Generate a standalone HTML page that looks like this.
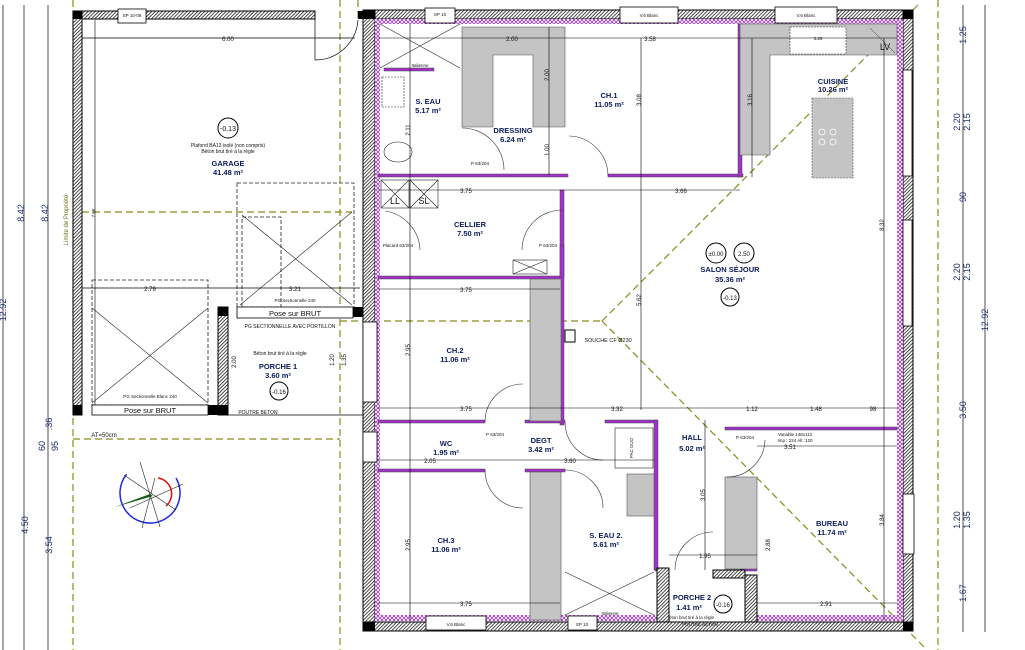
<!DOCTYPE html>
<html><head><meta charset="utf-8"><style>
html,body{margin:0;padding:0;background:#fff;width:1025px;height:650px;overflow:hidden}
svg{display:block;font-family:"Liberation Sans",sans-serif}
.rn{font-size:7.5px;fill:#0a1a5a;text-anchor:middle;font-weight:bold}
.dm{font-size:6px;fill:#111;text-anchor:middle}
.sm{font-size:4.5px;fill:#111;text-anchor:middle}
.bd{font-size:9px;fill:#1a2b6d;text-anchor:middle}
</style></head><body>
<svg width="1025" height="650" viewBox="0 0 1025 650">
<defs>
<pattern id="h" width="2.5" height="2.5" patternUnits="userSpaceOnUse" patternTransform="rotate(45)"><rect width="2.5" height="2.5" fill="#fff"/><line x1="0" y1="0" x2="0" y2="2.5" stroke="#111" stroke-width="1.5"/></pattern>
<pattern id="p" width="4" height="4" patternUnits="userSpaceOnUse"><rect width="4" height="4" fill="#a033c8"/><path d="M0 0L4 4M4 0L0 4" stroke="#fff" stroke-width="0.8"/></pattern>
</defs>
<rect width="1025" height="650" fill="#fff"/>

<g stroke="#8b8b1a" stroke-width="1.2" stroke-dasharray="7,4" fill="none">
<line x1="73" y1="0" x2="73" y2="650"/>
<line x1="340" y1="0" x2="340" y2="650"/>
<line x1="73" y1="439" x2="340" y2="439"/>
<line x1="82" y1="212" x2="352" y2="212"/>
<line x1="340" y1="321" x2="602" y2="321"/>
<line x1="602" y1="321" x2="918" y2="5"/>
<line x1="602" y1="321" x2="925" y2="648"/>
<line x1="938" y1="0" x2="938" y2="650"/>
<line x1="358" y1="0" x2="358" y2="20"/>
</g>

<rect x="73" y="11" width="242" height="8" fill="url(#h)" stroke="#000" stroke-width="1"/>
<rect x="73" y="11" width="9" height="404" fill="url(#h)" stroke="#000" stroke-width="1"/>
<rect x="73" y="11" width="9" height="8" fill="#000"/>
<rect x="73" y="405" width="9" height="10" fill="#000"/>
<rect x="118" y="9" width="28" height="14" fill="#fff" stroke="#000" stroke-width="0.8"/>
<text x="132" y="17" class="sm">SP 10-08</text>
<rect x="358" y="11" width="12" height="8" fill="#000"/>
<path d="M315 19 L315 60 A43 43 0 0 0 358 20" fill="none" stroke="#000" stroke-width="0.7"/>
<line x1="82" y1="38" x2="355" y2="38" stroke="#000" stroke-width="0.7"/>
<text x="228" y="41" class="dm">6.00</text>
<line x1="95" y1="20" x2="95" y2="405" stroke="#000" stroke-width="0.6"/>
<text x="95" y="213" class="sm" transform="rotate(-90 95 213)">7.86</text>
<text x="68" y="220" class="sm" transform="rotate(-90 68 220)" style="fill:#6a6a10;font-size:6px">Limite de Propriété</text>
<g fill="none" stroke="#222" stroke-width="0.8" stroke-dasharray="4,2">
<rect x="92" y="280" width="116" height="125"/>
<rect x="237" y="183" width="117" height="125"/>
<rect x="242" y="217" width="39" height="90"/>
</g>
<g stroke="#222" stroke-width="0.6"><line x1="92" y1="308" x2="208" y2="403"/><line x1="208" y1="308" x2="92" y2="403"/><line x1="242" y1="215" x2="352" y2="305"/><line x1="352" y1="212" x2="240" y2="305"/></g>
<line x1="82" y1="288" x2="360" y2="288" stroke="#000" stroke-width="0.7"/>
<text x="150" y="291" class="dm">2.79</text><text x="295" y="291" class="dm">3.21</text>
<circle cx="228" cy="128" r="10" fill="#fff" stroke="#000"/><text x="228" y="131" class="dm" style="font-size:7px">-0.13</text>
<text x="228" y="147" class="sm" style="font-size:5px">Plafond BA13 isolé (non compris)</text>
<text x="228" y="153" class="sm" style="font-size:5px">Béton brut tiré à la règle</text>
<text x="228" y="166" class="rn">GARAGE</text><text x="228" y="175" class="rn">41.48 m²</text>
<rect x="92" y="405" width="116" height="10" fill="#fff" stroke="#000" stroke-width="0.8"/>
<text x="150" y="413" class="rn" style="fill:#111;font-weight:normal">Pose sur BRUT</text>
<text x="150" y="398" class="sm">PG Sectionnelle Blanc 240</text>
<rect x="237" y="307" width="116" height="11" fill="#fff" stroke="#000" stroke-width="0.8"/>
<text x="295" y="316" class="rn" style="fill:#111;font-weight:normal">Pose sur BRUT</text>
<text x="295" y="302" class="sm">PG Sectionnelle 240</text>
<rect x="218" y="307" width="10" height="108" fill="url(#h)" stroke="#000"/>
<rect x="218" y="307" width="10" height="9" fill="#000"/><rect x="208" y="405" width="20" height="10" fill="#000"/>
<rect x="353" y="307" width="10" height="10" fill="#000"/>
<line x1="228" y1="415" x2="363" y2="415" stroke="#000" stroke-width="0.7"/>
<text x="290" y="328" class="sm" style="font-size:5px">PG SECTIONNELLE AVEC PORTILLON</text>
<text x="280" y="355" class="sm" style="font-size:5px">Béton brut tiré à la règle</text>
<text x="278" y="369" class="rn">PORCHE 1</text><text x="278" y="378" class="rn">3.60 m²</text>
<circle cx="279" cy="391" r="9" fill="#fff" stroke="#000"/><text x="279" y="394" class="dm">-0.16</text>
<text x="258" y="414" class="sm" style="font-size:5px">POUTRE BETON</text>
<text x="236" y="362" class="dm" transform="rotate(-90 236 362)">2.00</text>
<text x="334" y="360" class="dm" transform="rotate(-90 334 360)">1.20</text>
<text x="346" y="360" class="dm" transform="rotate(-90 346 360)">1.35</text>
<text x="104" y="437" class="sm" style="font-size:6px">AT=50cm</text>

<circle cx="150" cy="493" r="30" fill="none" stroke="#1d2bdc" stroke-width="1.5" stroke-dasharray="130,60" transform="rotate(-30 150 493)"/>
<path d="M158 478 A16 16 0 0 1 166 506" fill="none" stroke="#e01010" stroke-width="1.5"/>
<g stroke="#222" stroke-width="0.6"><line x1="140" y1="462" x2="160" y2="527"/><line x1="124" y1="475" x2="176" y2="510"/><line x1="155" y1="478" x2="142" y2="528"/><line x1="130" y1="508" x2="183" y2="484"/></g>
<path d="M115 507 L150 494 L153 496 Z" fill="#1a5a1a"/>

<g stroke="#000" stroke-width="0.7">
<line x1="3" y1="5" x2="3" y2="650"/><line x1="24" y1="5" x2="24" y2="650"/><line x1="48" y1="5" x2="48" y2="650"/>
</g>
<g>
<text x="24" y="213" transform="rotate(-90 24 213)" class="bd">8.42</text>
<text x="48" y="213" transform="rotate(-90 48 213)" class="bd">8.42</text>
<text x="6" y="310" transform="rotate(-90 6 310)" class="bd">12.92</text>
<text x="28" y="525" transform="rotate(-90 28 525)" class="bd">4.50</text>
<text x="52" y="545" transform="rotate(-90 52 545)" class="bd">3.54</text>
<text x="52" y="424" transform="rotate(-90 52 424)" class="bd">.36</text>
<text x="45" y="446" transform="rotate(-90 45 446)" class="bd">60</text>
<text x="58" y="446" transform="rotate(-90 58 446)" class="bd">95</text>
</g>

<rect x="370" y="10" width="543" height="9" fill="url(#h)" stroke="#000"/>
<rect x="363" y="10" width="12" height="620" fill="url(#h)" stroke="#000"/>
<rect x="903" y="10" width="10" height="620" fill="url(#h)" stroke="#000"/>
<rect x="363" y="622" width="550" height="9" fill="url(#h)" stroke="#000"/>
<rect x="375" y="19" width="528" height="5" fill="url(#p)"/>
<rect x="375" y="19" width="5" height="600" fill="url(#p)"/>
<rect x="897" y="19" width="6" height="600" fill="url(#p)"/>
<rect x="375" y="615" width="282" height="6" fill="url(#p)"/>
<rect x="757" y="615" width="146" height="6" fill="url(#p)"/>
<g fill="#fff" stroke="#000" stroke-width="0.8">
<rect x="425" y="8" width="30" height="15"/><rect x="620" y="7" width="58" height="16"/><rect x="775" y="7" width="62" height="16"/>
<rect x="903" y="70" width="9" height="106"/><rect x="903" y="220" width="9" height="106"/><rect x="903" y="494" width="11" height="60"/>
<rect x="426" y="616" width="60" height="14"/><rect x="568" y="616" width="29" height="14"/>
<rect x="363" y="322" width="14" height="80"/><rect x="363" y="432" width="14" height="30"/>
</g>
<text x="440" y="16" class="sm">SP 10</text><text x="649" y="17" class="sm">V.6 Blanc</text><text x="806" y="17" class="sm">V.6 Blanc</text>
<text x="456" y="626" class="sm">V.6 Blanc</text><text x="582" y="626" class="sm">SP 10</text>
<rect x="363" y="10" width="12" height="9" fill="#000"/><rect x="903" y="10" width="10" height="9" fill="#000"/><rect x="903" y="622" width="10" height="9" fill="#000"/><rect x="363" y="622" width="12" height="9" fill="#000"/>

<g fill="#a033c8" stroke="#444" stroke-width="0.5">
<rect x="378" y="174" width="190" height="3"/><rect x="608" y="174" width="135" height="3"/>
<rect x="738" y="24" width="4" height="153"/>
<rect x="378" y="276" width="185" height="3"/>
<rect x="560" y="190" width="4" height="87"/><rect x="560" y="245" width="4" height="180"/>
<rect x="378" y="420" width="107" height="3"/><rect x="525" y="420" width="40" height="3"/>
<rect x="378" y="469" width="107" height="3"/><rect x="525" y="469" width="40" height="3"/>
<rect x="605" y="420" width="52" height="3"/><rect x="654" y="420" width="4" height="150"/>
<rect x="725" y="427" width="172" height="3"/>
<rect x="655" y="568" width="12" height="3"/><rect x="740" y="568" width="17" height="3"/>
<rect x="384" y="68" width="50" height="3"/>
</g>
<g fill="#c4c4c4" stroke="#555" stroke-width="0.6">
<path d="M462 27 H565 V127 H533 V55 H493 V127 H462 Z"/>
<rect x="530" y="279" width="31" height="142"/>
<rect x="530" y="472" width="31" height="148"/>
<rect x="725" y="477" width="32" height="92"/>
<path d="M740 24 H897 V55 H770 V155 H740 Z"/>
<rect x="812" y="98" width="41" height="80" stroke-dasharray="2,1"/>
<rect x="627" y="474" width="27" height="42"/>
</g>
<rect x="790" y="27" width="56" height="27" fill="#fff" stroke="#333" stroke-width="0.6" stroke-dasharray="2,1"/>
<text x="818" y="40" class="sm">3.25</text>
<g fill="none" stroke="#fff" stroke-width="0.8"><circle cx="822" cy="132" r="3"/><circle cx="833" cy="132" r="3"/><circle cx="822" cy="142" r="3"/><circle cx="833" cy="142" r="3"/></g>
<text x="885" y="50" class="dm" style="font-size:9px">LV</text>
<line x1="870" y1="28" x2="895" y2="53" stroke="#333" stroke-width="0.5"/>
<g fill="none" stroke="#222" stroke-width="0.6">
<rect x="381" y="180" width="28" height="28"/><rect x="410" y="180" width="28" height="28"/>
<line x1="381" y1="180" x2="409" y2="208"/><line x1="409" y1="180" x2="381" y2="208"/>
<line x1="410" y1="180" x2="438" y2="208"/><line x1="438" y1="180" x2="410" y2="208"/>
<line x1="380" y1="24" x2="460" y2="68"/><line x1="460" y1="24" x2="380" y2="68"/>
<ellipse cx="398" cy="152" rx="14" ry="10"/><rect x="382" y="77" width="22" height="30" stroke-dasharray="2,1"/>
<rect x="615" y="428" width="38" height="40"/>
<line x1="565" y1="572" x2="654" y2="615"/><line x1="654" y1="572" x2="565" y2="615"/>
<rect x="513" y="260" width="34" height="14"/><line x1="513" y1="260" x2="547" y2="274"/><line x1="547" y1="260" x2="513" y2="274"/>
</g>
<text x="395" y="204" class="dm" style="font-size:9px">LL</text><text x="424" y="204" class="dm" style="font-size:9px">SL</text>
<g fill="none" stroke="#333" stroke-width="0.6">
<path d="M462 128 A42 42 0 0 1 504 170"/><path d="M569 136 A40 40 0 0 1 608 176"/>
<path d="M385 211 A41 41 0 0 1 420 250"/><path d="M522 250 A40 40 0 0 1 562 210"/>
<path d="M485 422 A38 38 0 0 1 523 384"/><path d="M485 470 A38 38 0 0 0 523 508"/>
<path d="M565 422 A38 38 0 0 0 603 460"/><path d="M565 470 A38 38 0 0 1 603 508"/>
<path d="M727 477 A38 38 0 0 0 765 440"/><path d="M675 570 A38 38 0 0 1 713 532"/>
</g>
<g stroke="#000" stroke-width="0.6">
<line x1="378" y1="38" x2="897" y2="38"/><line x1="378" y1="190" x2="740" y2="190"/>
<line x1="378" y1="289" x2="560" y2="289"/><line x1="378" y1="408" x2="897" y2="408"/>
<line x1="378" y1="460" x2="654" y2="460"/><line x1="378" y1="603" x2="560" y2="603"/>
<line x1="410" y1="24" x2="410" y2="620"/><line x1="549" y1="27" x2="549" y2="175"/>
<line x1="641" y1="38" x2="641" y2="410"/><line x1="752" y1="38" x2="752" y2="177"/>
<line x1="884" y1="38" x2="884" y2="620"/><line x1="757" y1="446" x2="897" y2="446"/>
<line x1="757" y1="575" x2="757" y2="620"/><line x1="757" y1="603" x2="897" y2="603"/>
<line x1="669" y1="555" x2="757" y2="555"/><line x1="705" y1="420" x2="705" y2="570"/>
</g>
<g class="dm" fill="#111">
<text x="512" y="41">2.00</text><text x="650" y="41">3.58</text><text x="466" y="193">3.75</text><text x="681" y="193">3.66</text>
<text x="466" y="292">3.75</text><text x="466" y="411">3.75</text><text x="617" y="411">3.32</text><text x="752" y="411">1.12</text>
<text x="816" y="411">1.48</text><text x="873" y="411">98</text><text x="430" y="463">2.05</text><text x="570" y="463">3.60</text>
<text x="466" y="606">3.75</text><text x="826" y="606">2.91</text><text x="705" y="558">1.95</text><text x="790" y="449">3.51</text>
<text x="410" y="130" transform="rotate(-90 410 130)">2.11</text><text x="410" y="350" transform="rotate(-90 410 350)">2.95</text>
<text x="410" y="545" transform="rotate(-90 410 545)">2.95</text><text x="641" y="100" transform="rotate(-90 641 100)">3.08</text>
<text x="641" y="300" transform="rotate(-90 641 300)">5.62</text><text x="752" y="100" transform="rotate(-90 752 100)">3.16</text>
<text x="884" y="225" transform="rotate(-90 884 225)">8.32</text><text x="884" y="520" transform="rotate(-90 884 520)">3.84</text>
<text x="549" y="75" transform="rotate(-90 549 75)">2.00</text><text x="549" y="150" transform="rotate(-90 549 150)">1.00</text>
<text x="705" y="495" transform="rotate(-90 705 495)">3.05</text><text x="770" y="545" transform="rotate(-90 770 545)">2.88</text>
</g>
<g class="sm" style="font-size:4.5px">
<text x="480" y="165">P 63/204</text><text x="548" y="247">P 63/204</text><text x="398" y="247">Placard 63/204</text>
<text x="495" y="436">P 63/204</text><text x="745" y="439">P 63/204</text><text x="420" y="67">Italienne</text>
<text x="795" y="436">Variable 148x112</text><text x="795" y="442">Imp : 224 Alt :120</text>
<text x="610" y="615">Italienne</text><text x="700" y="626">POUTRE BETON</text><text x="690" y="619">Béton brut tiré à la règle</text>
<text x="633" y="448" transform="rotate(-90 633 448)">PAC DUO</text>
</g>
<g class="rn">
<text x="428" y="104">S. EAU</text><text x="428" y="113">5.17 m²</text>
<text x="513" y="133">DRESSING</text><text x="513" y="142">6.24 m²</text>
<text x="609" y="98">CH.1</text><text x="609" y="107">11.05 m²</text>
<text x="833" y="84">CUISINE</text><text x="833" y="92">10.26 m²</text>
<text x="470" y="227">CELLIER</text><text x="470" y="236">7.50 m²</text>
<text x="730" y="272">SALON SÉJOUR</text><text x="730" y="282">35.36 m²</text>
<text x="455" y="353">CH.2</text><text x="455" y="362">11.06 m²</text>
<text x="446" y="446">WC</text><text x="446" y="455">1.95 m²</text>
<text x="541" y="443">DEGT</text><text x="541" y="452">3.42 m²</text>
<text x="692" y="440">HALL</text><text x="692" y="451">5.02 m²</text>
<text x="832" y="526">BUREAU</text><text x="832" y="535">11.74 m²</text>
<text x="446" y="543">CH.3</text><text x="446" y="552">11.06 m²</text>
<text x="606" y="538">S. EAU 2.</text><text x="606" y="547">5.61 m²</text>
<text x="692" y="600">PORCHE 2</text><text x="689" y="610">1.41 m²</text>
</g>
<g fill="#fff" stroke="#000"><circle cx="716" cy="253" r="10"/><circle cx="744" cy="253" r="10"/><circle cx="730" cy="297" r="9"/><circle cx="723" cy="604" r="9"/></g>
<g class="dm"><text x="716" y="256">±0.00</text><text x="744" y="256">2.50</text><text x="730" y="300">-0.13</text><text x="723" y="607">-0.16</text></g>
<rect x="565" y="330" width="10" height="12" fill="#fff" stroke="#000"/>
<text x="608" y="342" class="sm" style="font-size:5.5px">SOUCHE CF Ø230</text>
<rect x="657" y="568" width="12" height="54" fill="url(#h)" stroke="#000"/>
<rect x="745" y="575" width="12" height="47" fill="url(#h)" stroke="#000"/>
<rect x="713" y="570" width="32" height="8" fill="url(#h)" stroke="#000"/>

<g stroke="#000" stroke-width="0.7"><line x1="963" y1="5" x2="963" y2="632"/><line x1="985" y1="5" x2="985" y2="632"/></g>
<g class="bd">
<text x="966" y="35" transform="rotate(-90 966 35)">1.25</text>
<text x="960" y="122" transform="rotate(-90 960 122)">2.20</text><text x="970" y="122" transform="rotate(-90 970 122)">2.15</text>
<text x="966" y="197" transform="rotate(-90 966 197)">90</text>
<text x="960" y="272" transform="rotate(-90 960 272)">2.20</text><text x="970" y="272" transform="rotate(-90 970 272)">2.15</text>
<text x="988" y="320" transform="rotate(-90 988 320)">12.92</text>
<text x="966" y="410" transform="rotate(-90 966 410)">3.50</text>
<text x="960" y="520" transform="rotate(-90 960 520)">1.20</text><text x="970" y="520" transform="rotate(-90 970 520)">1.35</text>
<text x="966" y="593" transform="rotate(-90 966 593)">1.67</text>
</g>
</svg>
</body></html>
